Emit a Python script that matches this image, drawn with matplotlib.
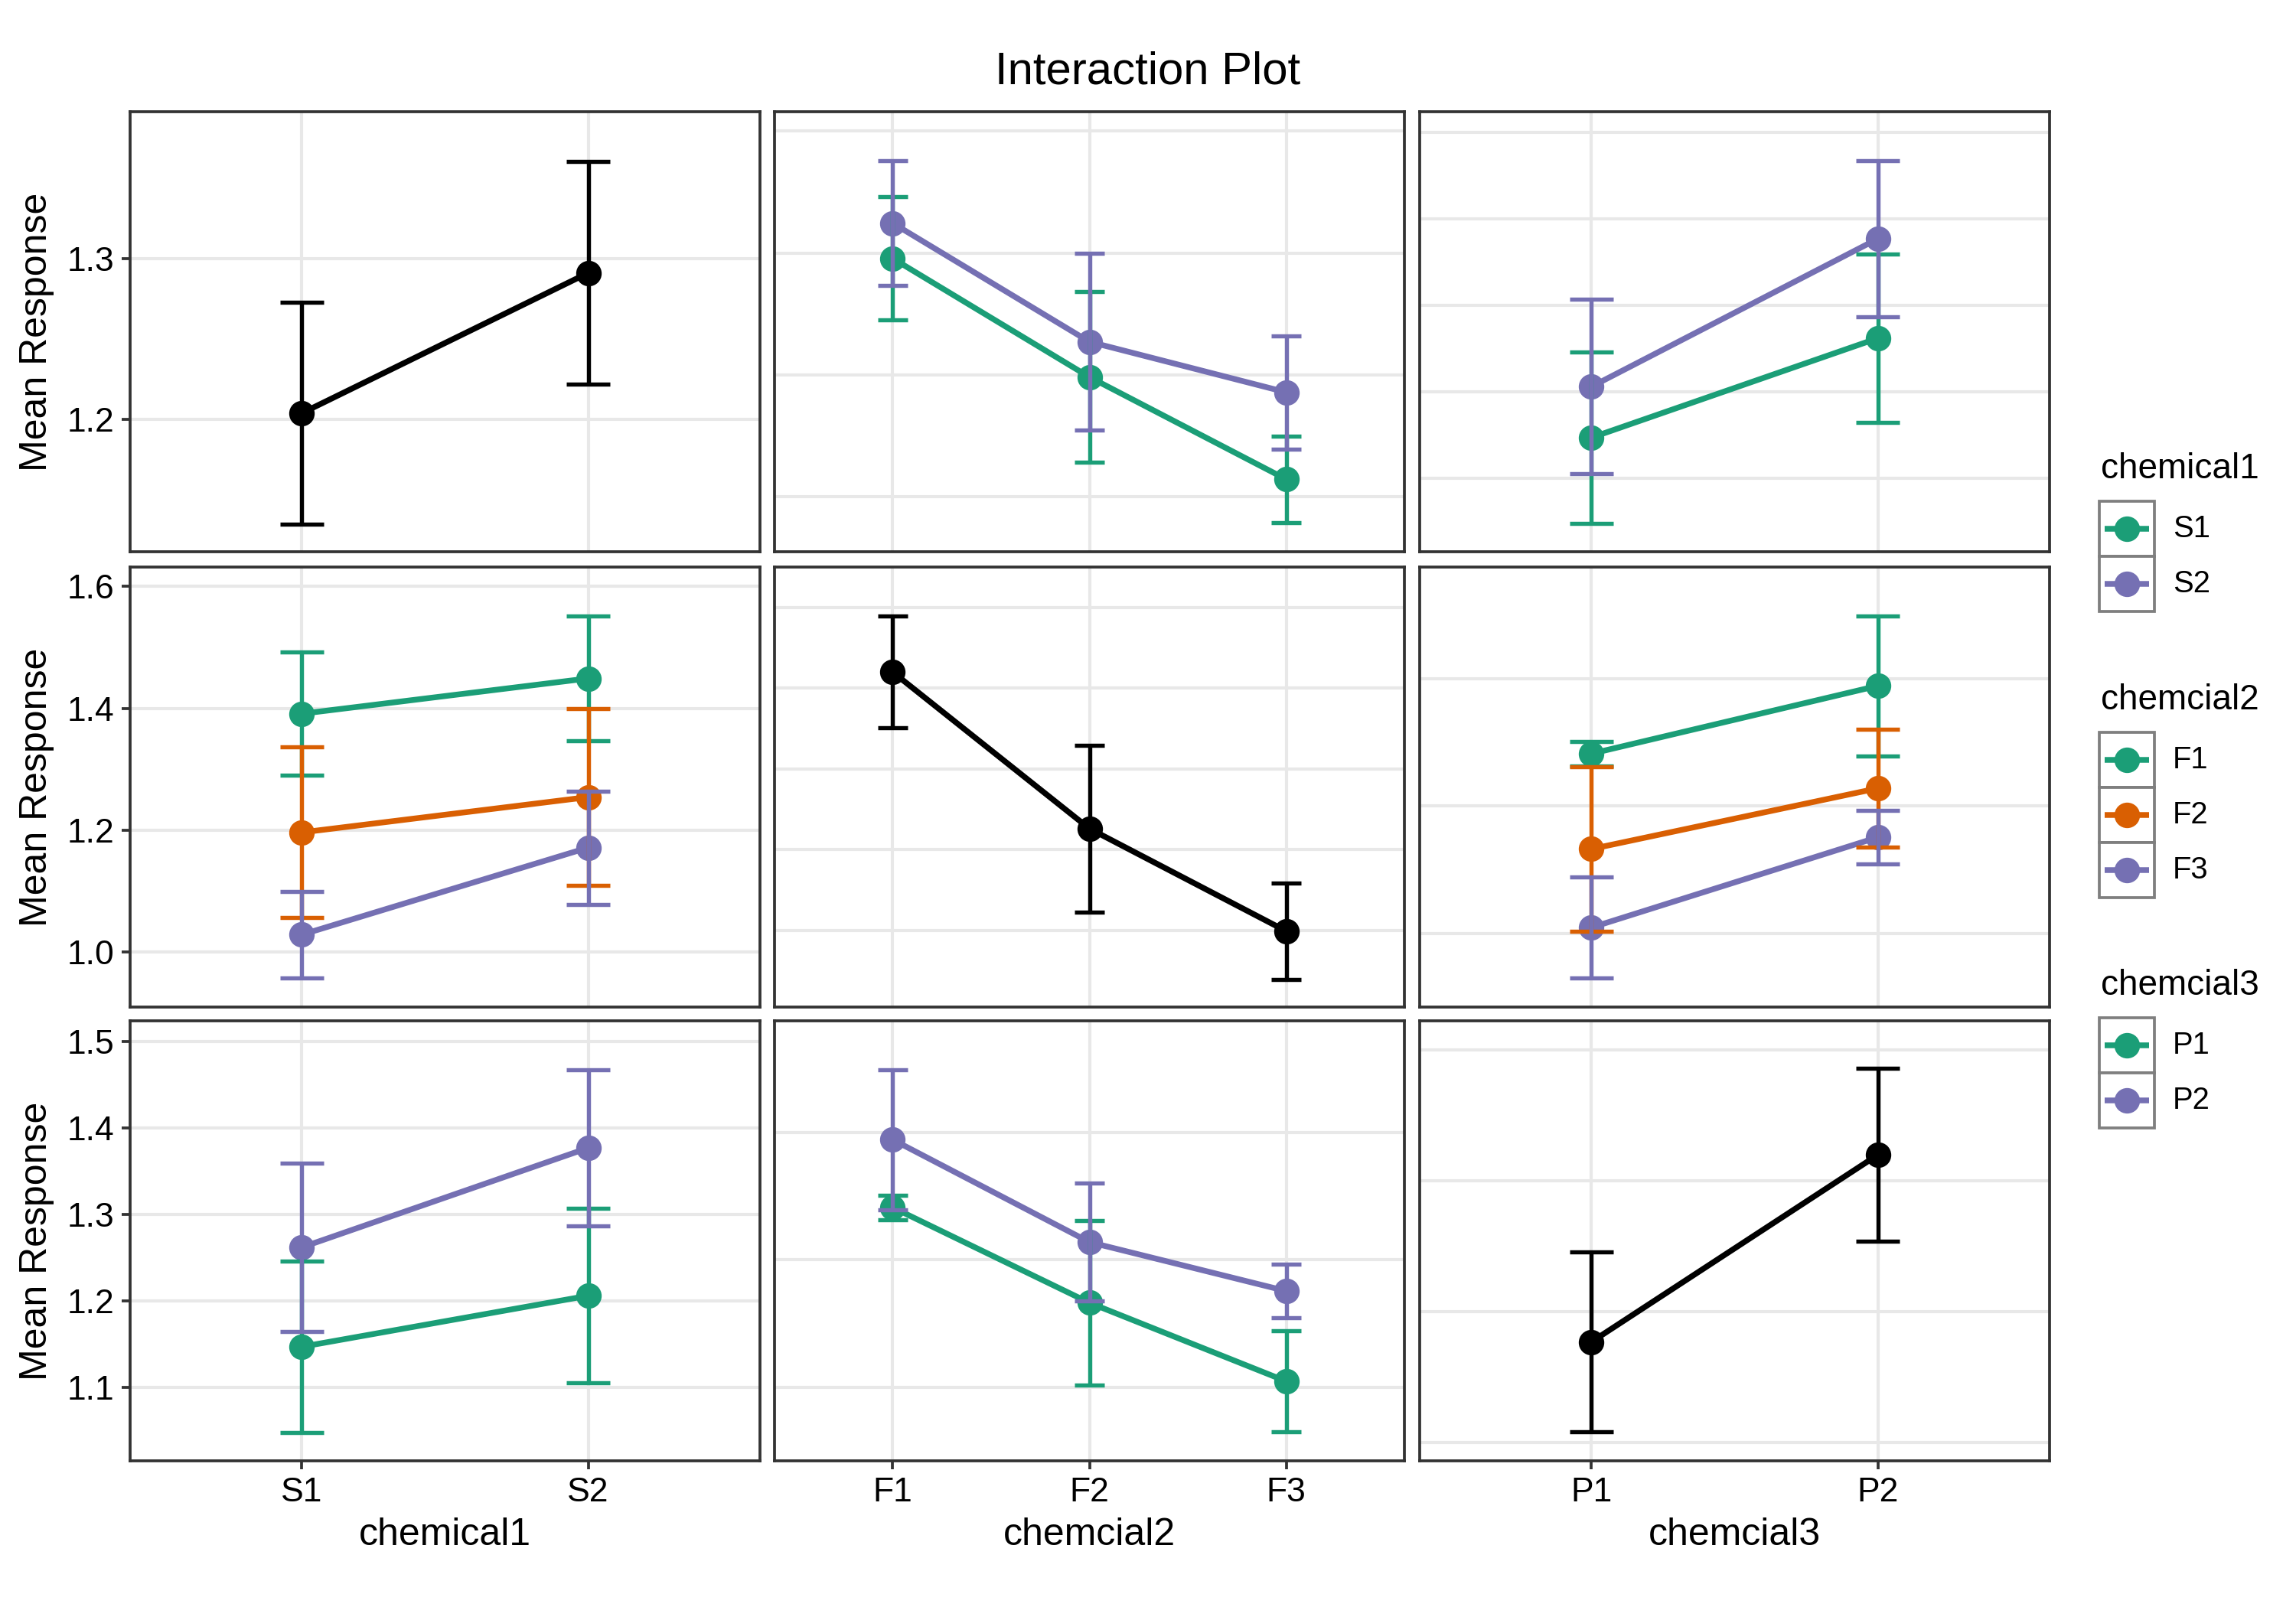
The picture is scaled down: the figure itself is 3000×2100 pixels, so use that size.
import numpy as np
import matplotlib
matplotlib.use("Agg")
import matplotlib.pyplot as plt
from matplotlib.patches import Rectangle
from matplotlib.ticker import FormatStrFormatter

plt.rcParams['font.family'] = ['Liberation Sans', 'DejaVu Sans']

# factor levels and names (typos kept as in the original)
chem1 = ["S1", "S2"]
chem2 = ["F1", "F2", "F3"]
chem3 = ["P1", "P2"]
factor_names = ["chemical1", "chemcial2", "chemcial3"]

# main effects: mean response and half width of error bar
c1_mean = [1.204, 1.291]
c1_err = [0.069, 0.069]
c2_mean = [1.420, 1.226, 1.099]
c2_err = [0.069, 0.103, 0.060]
c3_mean = [1.177, 1.320]
c3_err = [0.069, 0.066]

# two-way cell means, rows = first factor, cols = second factor
sf_mean = [[1.391, 1.196, 1.028],
           [1.449, 1.254, 1.171]]
sf_err = [[0.101, 0.140, 0.071],
          [0.103, 0.145, 0.093]]
sp_mean = [[1.147, 1.262],
           [1.206, 1.377]]
sp_err = [[0.099, 0.097],
          [0.101, 0.090]]
fp_mean = [[1.353, 1.486],
           [1.166, 1.285],
           [1.012, 1.189]]
fp_err = [[0.024, 0.137],
          [0.162, 0.116],
          [0.099, 0.052]]

levels = [chem1, chem2, chem3]
main_mean = [c1_mean, c2_mean, c3_mean]
main_err = [c1_err, c2_err, c3_err]
cells = {(0, 1): (sf_mean, sf_err), (0, 2): (sp_mean, sp_err), (1, 2): (fp_mean, fp_err)}

GREEN, ORANGE, PURPLE = "#1B9E77", "#D95F02", "#7570B3"
colors = [[GREEN, PURPLE], [GREEN, ORANGE, PURPLE], [GREEN, PURPLE]]

# y range and breaks of every panel (panel pairs share the same scale)
ylims = {(0, 0): (1.118, 1.391), (0, 1): (0.909, 1.632), (0, 2): (1.015, 1.524),
         (1, 1): (1.005, 1.550), (1, 2): (0.856, 1.719), (2, 2): (1.086, 1.4225)}
ybreaks = {(0, 0): [1.2, 1.3], (0, 1): [1.0, 1.2, 1.4, 1.6],
           (0, 2): [1.1, 1.2, 1.3, 1.4, 1.5], (1, 1): [1.1, 1.2, 1.3, 1.4, 1.5],
           (1, 2): [1.0, 1.25, 1.5], (2, 2): [1.1, 1.2, 1.3, 1.4]}


def cell(i, j):
    if i < j:
        m, e = cells[(i, j)]
        return np.array(m), np.array(e)
    m, e = cells[(j, i)]
    return np.array(m).T, np.array(e).T


def draw_series(ax, x, mean, err, color):
    mean = np.asarray(mean)
    err = np.asarray(err)
    ax.plot(x, mean, color=color, lw=1.8, zorder=3, solid_capstyle='butt')
    ax.plot(x, mean, 'o', color=color, ms=7, zorder=4)
    ax.vlines(x, mean - err, mean + err, color=color, lw=1.3, zorder=5)
    ax.hlines(np.r_[mean - err, mean + err], np.r_[x, x] - 0.075, np.r_[x, x] + 0.075,
              color=color, lw=1.3, zorder=5, capstyle='butt')


fig = plt.figure(figsize=(10, 7), dpi=300)

lefts = [170, 1012, 1855]
tops = [146, 741, 1334]
pw, ph = 823, 575

for r in range(3):
    for c in range(3):
        ax = fig.add_axes([lefts[c] / 3000, 1 - (tops[r] + ph) / 2100, pw / 3000, ph / 2100])
        nx = len(levels[c])
        x = np.arange(1, nx + 1)
        if r == c:
            draw_series(ax, x, main_mean[c], main_err[c], "black")
        else:
            m, e = cell(r, c)
            for k in range(len(levels[r])):
                draw_series(ax, x, m[k], e[k], colors[r][k])
        key = (min(r, c), max(r, c))
        ax.set_xlim(0.4, nx + 0.6)
        ax.set_ylim(*ylims[key])
        ax.set_yticks(ybreaks[key])
        ax.set_xticks(x)
        ax.set_xticklabels(levels[c])
        ax.yaxis.set_major_formatter(FormatStrFormatter('%.1f'))
        ax.grid(True, color="#E8E8E8", lw=1.0)
        ax.set_axisbelow(True)
        for sp in ax.spines.values():
            sp.set_color("#333333")
            sp.set_linewidth(0.9)
        ax.tick_params(axis='both', color="#333333", width=0.9, length=2.75,
                       labelsize=10.7, labelcolor="black", pad=2.2)
        if c > 0:
            ax.tick_params(axis='y', length=0, labelleft=False)
        else:
            ax.set_ylabel("Mean Response", fontsize=12, labelpad=4)
        if r < 2:
            ax.tick_params(axis='x', length=0, labelbottom=False)
        else:
            ax.set_xlabel(factor_names[c], fontsize=12, labelpad=3)

fig.text(0.5, 1 - 94 / 2100, "Interaction Plot", ha='center', va='center', fontsize=14.4)

# legends, drawn in a pixel-unit overlay
lg = fig.add_axes([0, 0, 1, 1])
lg.set_xlim(0, 3000)
lg.set_ylim(2100, 0)
lg.axis('off')
lg.patch.set_visible(False)
title_y = [613, 915, 1288]
key = 72
for g in range(3):
    lg.text(2745, title_y[g], factor_names[g], fontsize=11, ha='left', va='center')
    top = title_y[g] + 42
    for k, lab in enumerate(levels[g]):
        y0 = top + key * k
        lg.add_patch(Rectangle((2743, y0), key, key, facecolor='white',
                               edgecolor='#7F7F7F', lw=0.9))
        yc = y0 + key / 2
        lg.plot([2750, 2808], [yc, yc], color=colors[g][k], lw=1.8, solid_capstyle='butt')
        lg.plot([2779], [yc], 'o', color=colors[g][k], ms=7)
        lg.text(2839, yc, lab, fontsize=9.6, ha='left', va='center')

fig.savefig("out.png", dpi=300)
